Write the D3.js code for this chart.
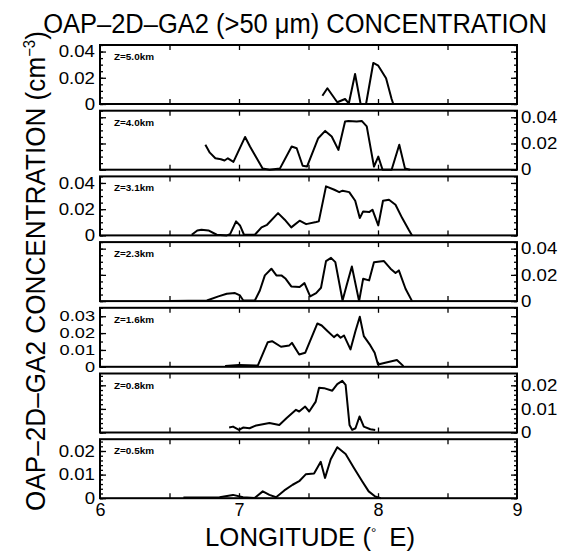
<!DOCTYPE html>
<html>
<head>
<meta charset="utf-8">
<script src="https://cdn.jsdelivr.net/npm/d3@7"></script>
<style>
  body { margin: 0; background: #fff; }
  text { font-family: "Liberation Sans", Arial, Helvetica, sans-serif; fill: #000; }
</style>
</head>
<body>
<div id="chart"></div>
<script>
// altitude labels, top to bottom
const levels = ["Z=5.0km", "Z=4.0km", "Z=3.1km", "Z=2.3km", "Z=1.6km", "Z=0.8km", "Z=0.5km"];

// longitude (deg E) / concentration (cm-3)
const lon50 = [7.60, 7.636, 7.707, 7.763, 7.79, 7.835, 7.875, 7.914, 7.966, 8.002, 8.058, 8.098, 8.11];
const val50 = [0.0063, 0.012, 0.0013, 0.0038, 0.0004, 0.0229, 0, 0, 0.0313, 0.0292, 0.0196, 0.0038, 0];

const lon40 = [6.758, 6.79, 6.83, 6.87, 6.896, 6.92, 6.96, 7.044, 7.079, 7.17, 7.22, 7.295, 7.379, 7.415, 7.458, 7.49,
  7.57, 7.62, 7.667, 7.715, 7.763, 7.787, 7.847, 7.883, 7.919, 7.971, 8.002, 8.033, 8.098, 8.153, 8.194, 8.23];
const val40 = [0.019, 0.013, 0.0087, 0.008, 0.007, 0.0087, 0.006, 0.025, 0.0177, 0.001, 0, 0.001, 0.0177, 0.0164, 0.003, 0.0025,
  0.024, 0.0296, 0.0253, 0.0151, 0.0368, 0.0372, 0.0368, 0.0372, 0.033, 0.0024, 0.010, 0, 0, 0.019, 0.001, 0];

const lon31 = [6.66, 6.70, 6.73, 6.78, 6.84, 6.912, 6.936, 6.979, 7.007, 7.036, 7.114, 7.162, 7.202, 7.281, 7.329, 7.376, 7.436, 7.483,
  7.555, 7.574, 7.626, 7.686, 7.721, 7.745, 7.793, 7.836, 7.869, 7.893, 7.936, 7.96, 8.002, 8.036, 8.079, 8.126, 8.174, 8.221, 8.245];
const val31 = [0.0005, 0.0038, 0.0043, 0.0038, 0.0005, 0, 0.001, 0.0107, 0.0076, 0.0005, 0.0005, 0.0061, 0.0081, 0.017, 0.012, 0.0061, 0.0112, 0.0086,
  0.0102, 0.0107, 0.0374, 0.0348, 0.033, 0.0341, 0.033, 0.0264, 0.0132, 0.0183, 0.0178, 0.0196, 0.0076, 0.0264, 0.0272, 0.0234, 0.0132, 0.0043, 0];

const lon23 = [6.5, 6.769, 6.852, 6.912, 6.971, 7.007, 7.031, 7.114, 7.15, 7.186, 7.233, 7.269, 7.305, 7.336, 7.376, 7.436,
  7.471, 7.512, 7.555, 7.59, 7.626, 7.662, 7.693, 7.745, 7.774, 7.812, 7.864, 7.893, 7.936, 7.971, 8.043, 8.09, 8.126, 8.15, 8.198, 8.245];
const val23 = [0, 0.0005, 0.0036, 0.0056, 0.0061, 0.0043, 0.0005, 0.0005, 0.0081, 0.0196, 0.0247, 0.0196, 0.0196, 0.017, 0.0112, 0.0107,
  0.0137, 0.0036, 0.0061, 0.0102, 0.0305, 0.033, 0.0297, 0.0005, 0.0119, 0.0264, 0, 0.017, 0.0158, 0.0297, 0.0305, 0.0247, 0.0214, 0.0234, 0.0094, 0];

const lon16 = [6.9, 7.0, 7.136, 7.207, 7.238, 7.302, 7.362, 7.381, 7.433, 7.476, 7.564, 7.595, 7.636, 7.683, 7.707, 7.731,
  7.755, 7.802, 7.838, 7.869, 7.898, 7.945, 7.976, 8.0, 8.052, 8.136, 8.183];
const val16 = [0.0005, 0.001, 0.0008, 0.0146, 0.0152, 0.0119, 0.0127, 0.0142, 0.0073, 0.0083, 0.0257, 0.0245, 0.0212, 0.0176, 0.0192, 0.0172,
  0.0186, 0.0103, 0.0212, 0.0297, 0.0182, 0.0127, 0.0083, 0.0014, 0.0024, 0.004, 0.0004];

const lon08 = [6.929, 6.957, 7.0, 7.029, 7.076, 7.124, 7.219, 7.29, 7.343, 7.41, 7.433, 7.476, 7.505, 7.552, 7.576, 7.612,
  7.671, 7.707, 7.743, 7.767, 7.795, 7.814, 7.838, 7.867, 7.898, 7.945, 7.98];
const val08 = [0.0021, 0.0025, 0.0011, 0.0021, 0.0018, 0.003, 0.004, 0.0032, 0.0061, 0.0096, 0.0089, 0.011, 0.0089, 0.0131, 0.019, 0.0188,
  0.0177, 0.0205, 0.0219, 0.0202, 0.0032, 0.0011, 0.0018, 0.0068, 0.0025, 0.0014, 0.0011];

const lon05 = [6.6, 6.86, 6.957, 7.029, 7.112, 7.171, 7.219, 7.267, 7.326, 7.386, 7.433, 7.48, 7.54, 7.588, 7.619, 7.66,
  7.707, 7.767, 7.826, 7.886, 7.933, 7.98, 8.02];
const val05 = [0.0003, 0.0004, 0.0014, 0.0004, 0.0001, 0.0029, 0.0014, 0.0004, 0.0033, 0.0057, 0.0072, 0.0101, 0.0105, 0.0154, 0.0086, 0.0165,
  0.0216, 0.0187, 0.0129, 0.0072, 0.0029, 0.0007, 0];

// y-axis settings per panel
const yMax = [0.045, 0.045, 0.045, 0.045, 0.035, 0.025, 0.025];
const yTicks = [[0, 0.02, 0.04], [0, 0.02, 0.04], [0, 0.02, 0.04], [0, 0.02, 0.04],
  [0, 0.01, 0.02, 0.03], [0, 0.01, 0.02], [0, 0.01, 0.02]];
const yMinorStep = [0.005, 0.005, 0.005, 0.005, 0.005, 0.002, 0.002];
const xTickLabels = [6, 7, 8, 9];

const lons = [lon50, lon40, lon31, lon23, lon16, lon08, lon05];
const vals = [val50, val40, val31, val23, val16, val08, val05];

const width = 571, height = 551;
const left = 100, right = 517, top0 = 45, step = 65.7, ph = 59;

const svg = d3.select("#chart").append("svg")
    .attr("width", width)
    .attr("height", height);

const x = d3.scaleLinear().domain([6, 9]).range([left, right]);

let fmt = d => d === 0 ? "0" : d.toFixed(2);

// the scanned lettering is a bit wider than the font
function stretch(sel, k) {
    sel.each(function() {
        let w = this.getComputedTextLength();
        if (w > 0) d3.select(this).attr("textLength", w * k).attr("lengthAdjust", "spacingAndGlyphs");
    });
}

levels.forEach(function(name, i) {
    let top = top0 + i * step;
    let y = d3.scaleLinear().domain([0, yMax[i]]).range([top + ph, top]);
    let g = svg.append("g").attr("class", "panel");

    let minor = d3.range(0, yMax[i] + 1e-9, yMinorStep[i]);
    let labelLeft = (i % 2 === 0);

    // minor y ticks both sides
    g.append("g").attr("transform", "translate(" + left + ",0)")
        .call(d3.axisLeft(y).tickValues(minor).tickSize(-3).tickFormat(""));
    g.append("g").attr("transform", "translate(" + right + ",0)")
        .call(d3.axisRight(y).tickValues(minor).tickSize(-3).tickFormat(""));

    // major y ticks, labelled on alternating sides
    g.append("g").attr("class", "yl").attr("transform", "translate(" + left + ",0)")
        .call(d3.axisLeft(y).tickValues(yTicks[i]).tickSize(-6).tickPadding(5)
            .tickFormat(labelLeft ? fmt : ""));
    g.append("g").attr("class", "yr").attr("transform", "translate(" + right + ",0)")
        .call(d3.axisRight(y).tickValues(yTicks[i]).tickSize(-6).tickPadding(4)
            .tickFormat(labelLeft ? "" : fmt));

    // x ticks top and bottom
    let xt = [6.5, 7, 7.5, 8, 8.5];
    g.append("g").attr("transform", "translate(0," + (top + ph) + ")")
        .call(d3.axisBottom(x).tickValues(xt).tickSize(-5).tickFormat(""));
    g.append("g").attr("transform", "translate(0," + top + ")")
        .call(d3.axisTop(x).tickValues(xt).tickSize(-5).tickFormat(""));

    g.selectAll(".domain").remove();
    g.selectAll(".tick line").attr("stroke", "#000").attr("stroke-width", 1.3);
    let fs = (i === 4) ? 14 : 16.5;
    let lbl = g.selectAll(".tick text")
        .attr("font-size", fs)
        .attr("font-family", "Liberation Sans, Arial, sans-serif")
        .attr("fill", "#000");
    stretch(lbl, i === 4 ? 1.3 : 1.13);

    // frame
    g.append("rect")
        .attr("x", left).attr("y", top)
        .attr("width", right - left).attr("height", ph)
        .attr("fill", "none")
        .attr("stroke", "#000")
        .attr("stroke-width", 2);

    let pts = lons[i].map((d, k) => [d, vals[i][k]]);
    let line = d3.line().x(d => x(d[0])).y(d => y(d[1]));
    g.append("path")
        .datum(pts)
        .attr("d", line)
        .attr("fill", "none")
        .attr("stroke", "#000")
        .attr("stroke-width", 2)
        .attr("stroke-linejoin", "round");

    g.append("text")
        .attr("x", left + 14)
        .attr("y", top + 15)
        .attr("font-size", 9)
        .attr("font-weight", "bold")
        .attr("textLength", 40)
        .attr("lengthAdjust", "spacingAndGlyphs")
        .text(name);
});

// longitude labels under the last panel
const bottom = top0 + 6 * step + ph;
let xa = svg.append("g").attr("transform", "translate(0," + bottom + ")")
    .call(d3.axisBottom(x).tickValues(xTickLabels).tickSize(0).tickPadding(5).tickFormat(d3.format("d")));
xa.select(".domain").remove();
xa.selectAll("text").attr("font-size", 18).attr("fill", "#000")
    .attr("font-family", "Liberation Sans, Arial, sans-serif");

// titles, squeezed to the width they take in the scan
let tt = svg.append("text")
    .attr("text-anchor", "middle")
    .attr("font-size", 27)
    .text("OAP\u20132D\u2013GA2 (>50 \u03bcm) CONCENTRATION");
let tw = tt.node().getBBox().width;
tt.attr("transform", "translate(295,33) scale(" + (504 / tw) + ",1)");

let xt = svg.append("text")
    .attr("text-anchor", "middle")
    .attr("font-size", 25);
xt.append("tspan").text("LONGITUDE (");
xt.append("tspan").attr("dy", -9).attr("font-size", 13).text("\u00b0");
xt.append("tspan").attr("dy", 9).text("\u2002E)");
let xw = xt.node().getBBox().width;
xt.attr("transform", "translate(310,546) scale(" + (210 / xw) + ",1)");

let yt = svg.append("text")
    .attr("text-anchor", "middle")
    .attr("font-size", 28);
yt.append("tspan").text("OAP\u20132D\u2013GA2 CONCENTRATION (cm");
yt.append("tspan").attr("dy", -10).attr("font-size", 16).text("\u22123");
yt.append("tspan").attr("dy", 10).text(")");
let yw = yt.node().getBBox().width;
yt.attr("transform", "translate(45,271) rotate(-90) scale(" + (480 / yw) + ",1)");
</script>
</body>
</html>
